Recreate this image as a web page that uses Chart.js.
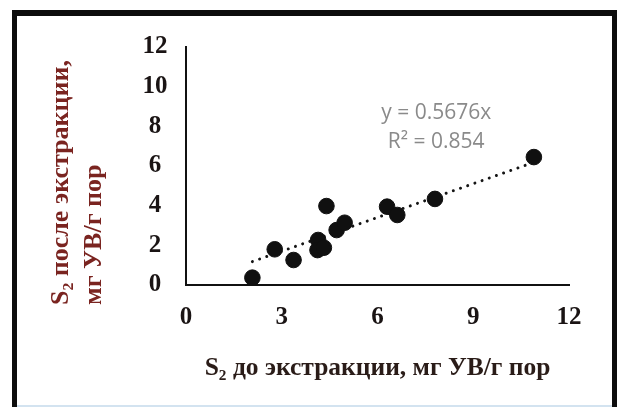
<!DOCTYPE html>
<html>
<head>
<meta charset="utf-8">
<script src="https://cdn.jsdelivr.net/npm/chart.js@4.4.1/dist/chart.umd.min.js"></script>
<style>
  html, body { margin: 0; padding: 0; background: #fff; }
  #wrap { position: relative; width: 620px; height: 407px; overflow: hidden; background: #fff; }
  #frame { position: absolute; left: 12px; top: 10px; width: 595px; height: 420px;
           border: 5px solid #0d0d0d; border-top-width: 6px; }
  #strip { position: absolute; left: 17px; width: 595px; bottom: 0; height: 2px; background: #d3e3f0; }
  #chart { position: absolute; left: 0; top: 0; }
</style>
</head>
<body>
<div id="wrap">
  <div id="frame"></div>
  <div id="strip"></div>
  <canvas id="chart" width="620" height="407"></canvas>
</div>
<script>
// S2 before and after extraction, mg HC / g rock
const s2Before = [2.08, 2.78, 3.37, 4.14, 4.12, 4.32, 4.40, 4.72, 4.97, 6.30, 6.62, 7.80, 10.90];
const s2After  = [0.37, 1.80, 1.26, 2.27, 1.76, 1.88, 3.98, 2.77, 3.14, 3.95, 3.53, 4.34, 6.45];

const xTicks = [0, 3, 6, 9, 12];
const yTicks = [0, 2, 4, 6, 8, 10, 12];

// linear trend through the origin
const trendSlope = 0.5676;
const trendR2 = 0.854;

const xTitle = 'S\u2082 до экстракции, мг УВ/г пор';
const yTitleLines = ['S\u2082 после экстракции,', 'мг УВ/г пор'];

const points = s2Before.map((v, i) => ({ x: v, y: s2After[i] }));
const xMin = Math.min(...s2Before);
const xMax = Math.max(...s2Before);
const trendPoints = [xMin, xMax].map(v => ({ x: v, y: trendSlope * v }));

const serif = '"Liberation Serif", "Times New Roman", "DejaVu Serif", serif';

// Rotated y-axis title and the trend equation
const extraText = {
  id: 'extraText',
  afterDraw(chart) {
    const ctx = chart.ctx;
    const xs = chart.scales.x, ys = chart.scales.y;
    ctx.save();

    ctx.fillStyle = '#8a8a8a';
    ctx.font = '21px "Open Sans", Lato, sans-serif';
    ctx.textAlign = 'center';
    ctx.textBaseline = 'middle';
    const ex = xs.getPixelForValue(7.84);
    ctx.fillText('y = ' + trendSlope + 'x', ex, ys.getPixelForValue(8.67));
    ctx.fillText('R\u00B2 = ' + trendR2, ex, ys.getPixelForValue(7.2));

    ctx.fillStyle = '#7a2420';
    ctx.font = 'bold 26px ' + serif;
    ctx.textAlign = 'left';
    ctx.textBaseline = 'middle';
    const baseY = ys.bottom + 20;
    [61, 94].forEach((cx, i) => {
      ctx.save();
      ctx.translate(cx, baseY);
      ctx.rotate(-Math.PI / 2);
      ctx.fillText(yTitleLines[i], 0, 0);
      ctx.restore();
    });
    ctx.restore();
  }
};

new Chart(document.getElementById('chart'), {
  type: 'scatter',
  data: {
    datasets: [
      {
        label: 'S2',
        data: points,
        backgroundColor: '#101010',
        borderColor: '#101010',
        pointRadius: 7.8,
        pointHoverRadius: 7.8,
        order: 1
      },
      {
        label: 'trend',
        data: trendPoints,
        showLine: true,
        borderColor: '#151515',
        borderWidth: 3,
        borderDash: [0.01, 7.6],
        borderCapStyle: 'round',
        pointRadius: 0,
        pointHoverRadius: 0,
        fill: false,
        order: 2
      }
    ]
  },
  options: {
    responsive: false,
    animation: false,
    layout: { padding: { left: 144, top: 47, right: 51, bottom: 23.5 } },
    plugins: { legend: { display: false }, tooltip: { enabled: false } },
    scales: {
      x: {
        type: 'linear',
        min: 0, max: 12,
        afterBuildTicks: s => { s.ticks = xTicks.map(v => ({ value: v })); },
        afterFit: s => { s.height = 98.5; },
        grid: { display: false, drawTicks: false },
        border: { display: true, color: '#111', width: 2 },
        ticks: {
          color: '#1a1414',
          padding: 18,
          font: { family: serif, size: 25, weight: 'bold' }
        },
        title: {
          display: true,
          text: xTitle,
          color: '#2a1c18',
          padding: { top: 20, bottom: 0 },
          font: { family: serif, size: 25.5, weight: 'bold' }
        }
      },
      y: {
        type: 'linear',
        min: 0, max: 12,
        afterBuildTicks: s => { s.ticks = yTicks.map(v => ({ value: v })); },
        afterFit: s => { s.width = 42; },
        grid: { display: false, drawTicks: false },
        border: { display: true, color: '#111', width: 2 },
        ticks: {
          color: '#1a1414',
          padding: 18.5,
          crossAlign: 'center',
          font: { family: serif, size: 25, weight: 'bold' }
        }
      }
    }
  },
  plugins: [extraText]
});
</script>
</body>
</html>
